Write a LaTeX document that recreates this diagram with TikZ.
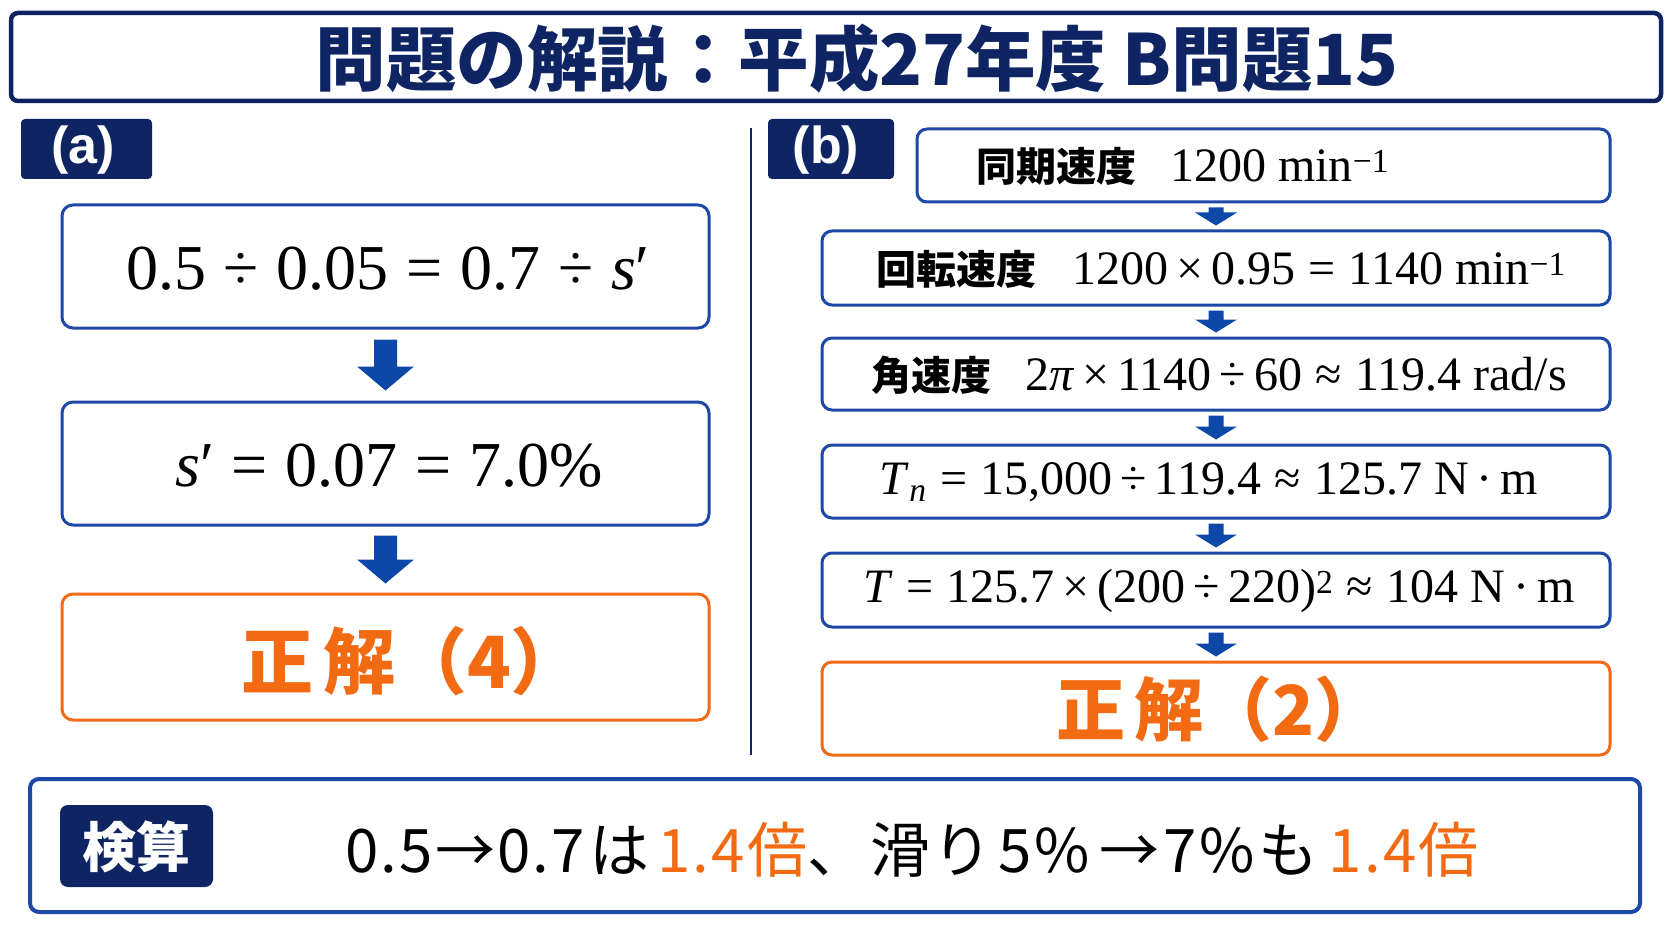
\documentclass[tikz,border=0pt]{standalone}
\usepackage{fontspec}
\setmainfont{Liberation Serif}
\newfontfamily\jp{Noto Sans CJK JP}
\newfontfamily\jpls{Noto Sans CJK JP}[LetterSpace=4]
\newfontfamily\lsans{Liberation Sans}
\usetikzlibrary{calc}
\definecolor{navy}{HTML}{0F2563}
\definecolor{boxblue}{HTML}{1E48A6}
\definecolor{arrblue}{HTML}{0D47A8}
\definecolor{orng}{HTML}{F06A1A}
\definecolor{otext}{HTML}{F26B12}
\newcommand{\fs}[1]{\fontsize{#1}{#1}\selectfont}
% from, to, shaft half, head half, head length, gap
\newcommand{\flowarrow}[6]{%
  \fill[arrblue] ($(#2.north |- #1.south)+(-#3,#6)$) -- ($(#2.north |- #1.south)+(#3,#6)$)
    -- ($(#2.north)+(#3,-#6-#5)$) -- ($(#2.north)+(#4,-#6-#5)$) -- ($(#2.north)+(0,-#6)$)
    -- ($(#2.north)+(-#4,-#6-#5)$) -- ($(#2.north)+(-#3,-#6-#5)$) -- cycle;}
\begin{document}
\begin{tikzpicture}[x=1pt,y=-1pt,
  bluebox/.style={draw=boxblue, line width=3pt, rounded corners=11pt, fill=white, inner sep=0pt},
  orangebox/.style={draw=orng, line width=3pt, rounded corners=11pt, fill=white, inner sep=0pt},
  labelbox/.style={fill=navy, rounded corners=4pt, inner sep=0pt},
  labeltext/.style={text=white, font={\lsans\bfseries\fs{52}}, inner sep=0pt},
  lmath/.style={font={\fs{64}}, inner sep=0pt},
  rmath/.style={font={\fs{48}}, inner sep=0pt},
  anstext/.style={text=otext, font={\jp\bfseries\fs{72}}, inner sep=0pt}
]
\fill[white] (0,0) rectangle (1672,941);
\useasboundingbox (0,0) rectangle (1672,941);

% title
\node[draw=navy, line width=4.5pt, rounded corners=7pt, minimum width=1650, minimum height=88, inner sep=0pt] (titlebox) at (836,57) {};
\node[text=navy, font={\jp\bfseries\fs{70.5}}, inner sep=0pt] (title) at (857,59) {問題の解説：平成27年度 B問題15};

% divider
\coordinate (dtop) at (751,128);
\coordinate (dbot) at (751,755);
\draw[navy, line width=2pt] (dtop) -- (dbot);

% (a) column
\node[labelbox, minimum width=131, minimum height=60] (alab) at (86.5,149) {};
\node[labeltext] (alabt) at (83,150) {(a)};

\node[bluebox, minimum width=647, minimum height=123] (a1) at (385.5,266.5) {};
\node[lmath] (a1t) at (388,269) {0.5\;÷\;0.05\;=\;0.7\;÷\;\textit{s}′};
\node[bluebox, minimum width=647, minimum height=123] (a2) at (385.5,463.5) {};
\node[lmath] (a2t) at (389,466) {\textit{s}′\;=\;0.07\;=\;7.0\%};
\node[orangebox, minimum width=647, minimum height=126] (a3) at (385.5,657) {};
\node[anstext] (a3t) at (412,661) {正\hspace{10pt}解（4）};

\flowarrow{a1}{a2}{11.5}{28.5}{24}{10}
\flowarrow{a2}{a3}{11.5}{28.5}{24}{9}

% (b) column
\node[labelbox, minimum width=126, minimum height=60] (blab) at (831,149) {};
\node[labeltext] (blabt) at (826,150) {(b)};

\node[bluebox, rounded corners=10pt, minimum width=693, minimum height=73] (b1) at (1263.5,165.5) {};
\node[rmath, anchor=west] (b1t) at (976,166) {{\jp\bfseries\fs{40}同期速度}\hspace{34pt}1200 min\textsuperscript{−1}};

\node[bluebox, rounded corners=10pt, minimum width=788, minimum height=74] (b2) at (1216,268) {};
\node[rmath] (b2t) at (1221,269) {{\jp\bfseries\fs{40}回転速度}\hspace{36pt}1200\,×\,0.95\;=\;1140 min\textsuperscript{−1}};

\node[bluebox, rounded corners=10pt, minimum width=788, minimum height=72] (b3) at (1216,374) {};
\node[rmath] (b3t) at (1219,375) {{\jp\bfseries\fs{40}角速度}\hspace{34pt}2\textit{π}\,×\,1140\,÷\,60\;≈\;119.4 rad/s};

\node[bluebox, rounded corners=10pt, minimum width=788, minimum height=73] (b4) at (1216,481.5) {};
\node[rmath] (b4t) at (1209,482) {\textit{T}\textsubscript{\textit{n}}\;=\;15,000\,÷\,119.4\;≈\;125.7 N\,·\,m};

\node[bluebox, rounded corners=10pt, minimum width=788, minimum height=74] (b5) at (1216,590) {};
\node[rmath] (b5t) at (1219,591) {\textit{T}\;=\;125.7\,×\,(200\,÷\,220)\textsuperscript{2}\;≈\;104 N\,·\,m};

\node[orangebox, rounded corners=10pt, minimum width=788, minimum height=93] (b6) at (1216,708.5) {};
\node[anstext, font={\jp\bfseries\fs{69}}] (b6t) at (1220,709) {正\hspace{9pt}解（2）};

\flowarrow{b1}{b2}{7.5}{21}{13}{4}
\flowarrow{b2}{b3}{7.5}{21}{13}{4}
\flowarrow{b3}{b4}{7.5}{21}{13}{4}
\flowarrow{b4}{b5}{7.5}{21}{13}{4}
\flowarrow{b5}{b6}{7.5}{21}{13}{4}

% check
\node[draw=boxblue, line width=4pt, rounded corners=9pt, minimum width=1610, minimum height=133, inner sep=0pt] (chk) at (835,845.5) {};
\node[fill=navy, rounded corners=8pt, minimum width=153, minimum height=82, inner sep=0pt] (chklab) at (136.5,846) {};
\node[text=white, font={\jp\bfseries\fs{54}}, inner sep=0pt] (chklabt) at (136.5,847) {検算};
\node[font={\jpls\fs{60}}, inner sep=0pt] (chkt) at (912,850) {0.5\hspace{2pt}→\hspace{2pt}0.7\hspace{4pt}は\hspace{8pt}{\color{otext}1.4倍}、滑り\hspace{6pt}5\%\hspace{10pt}→\hspace{4pt}7\%\hspace{4pt}も\hspace{10pt}{\color{otext}1.4倍}};
\end{tikzpicture}
\end{document}
